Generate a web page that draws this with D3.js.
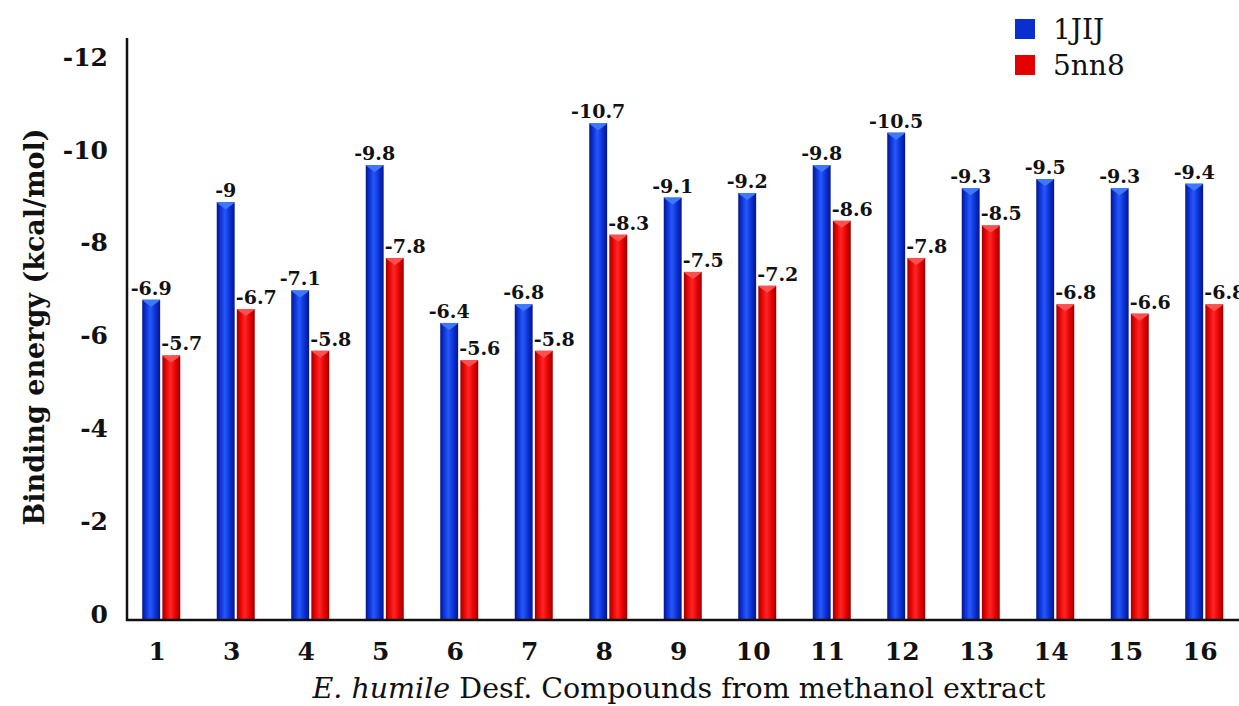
<!DOCTYPE html>
<html>
<head>
<meta charset="utf-8">
<script src="https://cdn.jsdelivr.net/npm/d3@7"></script>
<style>
  html, body { margin: 0; padding: 0; background: #fff; }
  svg { display: block; }
  text { font-family: "DejaVu Serif", "Liberation Serif", serif; fill: #111; }
</style>
</head>
<body>
<svg id="chart" width="1239" height="706"></svg>
<script>
const categories = ["1","3","4","5","6","7","8","9","10","11","12","13","14","15","16"];
const seriesNames = ["1JIJ", "5nn8"];
const values1JIJ = [-6.9, -9, -7.1, -9.8, -6.4, -6.8, -10.7, -9.1, -9.2, -9.8, -10.5, -9.3, -9.5, -9.3, -9.4];
const values5nn8 = [-5.7, -6.7, -5.8, -7.8, -5.6, -5.8, -8.3, -7.5, -7.2, -8.6, -7.8, -8.5, -6.8, -6.6, -6.8];
const yTicks = [0, -2, -4, -6, -8, -10, -12];
const yTitle = "Binding energy (kcal/mol)";
const xTitleItalic = "E. humile";
const xTitleRest = " Desf. Compounds from methanol extract";

const svg = d3.select("#chart");
const W = 1239, H = 706;
const plotLeft = 127, plotBottom = 620;

const x0 = d3.scaleBand().domain(categories).range([124, 1241.5]).padding(0);
const x1 = d3.scaleBand().domain(seriesNames).range([x0.bandwidth()/2 - 19, x0.bandwidth()/2 + 19]).paddingInner(0.11);
const y = d3.scaleLinear().domain([0, -12]).range([plotBottom, 63]);

const colors = {
  "1JIJ": {dark: "#051588", main: "#0a2fd0", light: "#2658fa", top: "#3d78ff"},
  "5nn8": {dark: "#980000", main: "#e40000", light: "#ff2626", top: "#ff5050"}
};

const defs = svg.append("defs");
seriesNames.forEach((s, i) => {
  const c = colors[s];
  const g = defs.append("linearGradient").attr("id", "grad" + i).attr("x1", "0%").attr("x2", "100%").attr("y1", "0%").attr("y2", "0%");
  g.append("stop").attr("offset", "0%").attr("stop-color", c.dark);
  g.append("stop").attr("offset", "18%").attr("stop-color", c.main);
  g.append("stop").attr("offset", "45%").attr("stop-color", c.light);
  g.append("stop").attr("offset", "75%").attr("stop-color", c.main);
  g.append("stop").attr("offset", "100%").attr("stop-color", c.dark);
});

const data = categories.map((cat, i) => ({cat, vals: [
  {s: "1JIJ", v: values1JIJ[i], idx: 0},
  {s: "5nn8", v: values5nn8[i], idx: 1}
]}));

const groups = svg.append("g").selectAll("g").data(data).join("g")
  .attr("transform", d => `translate(${x0(d.cat)},0)`);

groups.selectAll("rect.bar").data(d => d.vals).join("rect")
  .attr("class", "bar")
  .attr("x", d => x1(d.s))
  .attr("width", x1.bandwidth())
  .attr("y", d => y(d.v))
  .attr("height", d => y(0) - y(d.v))
  .attr("fill", d => `url(#grad${d.idx})`);

// top bevel
groups.selectAll("path.bevel").data(d => d.vals).join("path")
  .attr("class", "bevel")
  .attr("d", d => {
    const xl = x1(d.s), xr = xl + x1.bandwidth(), yt = y(d.v);
    const xm = (xl + xr) / 2;
    return `M${xl},${yt} L${xr},${yt} L${xr-2},${yt+2} L${xm},${yt+7} L${xl+2},${yt+2} Z`;
  })
  .attr("fill", d => colors[d.s].top);

// value labels
groups.selectAll("text.val").data(d => d.vals).join("text")
  .attr("class", "val")
  .attr("x", d => d.idx === 0 ? x1(d.s) + x1.bandwidth()/2 : x1(d.s) - 1)
  .attr("y", d => y(d.v) - 5)
  .attr("text-anchor", d => d.idx === 0 ? "middle" : "start")
  .attr("font-size", 19)
  .attr("font-weight", "bold")
  .text(d => String(d.v));

// axes lines
svg.append("line").attr("x1", plotLeft).attr("x2", plotLeft).attr("y1", 38).attr("y2", plotBottom + 1)
  .attr("stroke", "#111").attr("stroke-width", 2.5);
svg.append("line").attr("x1", plotLeft - 1).attr("x2", W).attr("y1", plotBottom).attr("y2", plotBottom)
  .attr("stroke", "#111").attr("stroke-width", 2.5);

// y tick labels
svg.append("g").selectAll("text").data(yTicks).join("text")
  .attr("x", 108).attr("y", d => y(d) - 6)
  .attr("dy", "0.35em")
  .attr("text-anchor", "end")
  .attr("font-size", 25).attr("font-weight", "bold")
  .text(d => String(d));

// x tick labels
svg.append("g").selectAll("text").data(categories).join("text")
  .attr("x", d => x0(d) + x0.bandwidth()/2 - 4).attr("y", 660)
  .attr("text-anchor", "middle")
  .attr("font-size", 25).attr("font-weight", "bold")
  .text(d => d);

// y title
svg.append("text")
  .attr("transform", `translate(44,327) rotate(-90)`)
  .attr("text-anchor", "middle")
  .attr("font-size", 27).attr("font-weight", "bold")
  .text(yTitle);

// x title
const xt = svg.append("text").attr("x", 679).attr("y", 698).attr("text-anchor", "middle").attr("font-size", 28.5);
xt.append("tspan").attr("font-style", "italic").text(xTitleItalic);
xt.append("tspan").text(xTitleRest);

// legend
const legend = svg.append("g").selectAll("g").data(seriesNames).join("g")
  .attr("transform", (d, i) => `translate(1015,${19 + i * 36})`);
legend.append("rect").attr("width", 20).attr("height", 20).attr("fill", d => colors[d].main);
legend.append("text").attr("x", 38).attr("y", 10).attr("dy", "0.35em").attr("font-size", 28).text(d => d);
</script>
</body>
</html>
